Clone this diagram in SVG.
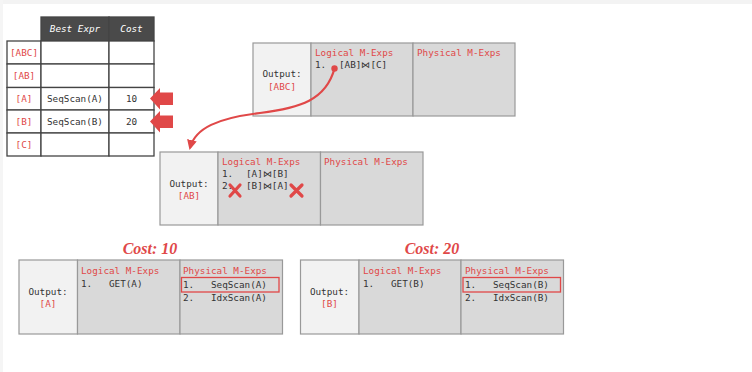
<svg xmlns="http://www.w3.org/2000/svg" width="752" height="372" viewBox="0 0 752 372">
<style>
text{white-space:pre}
.m{font-family:"DejaVu Sans Mono","Liberation Mono",monospace;font-size:9.3px;fill:#333}
.r{fill:#e04848}
.c{text-anchor:middle}
.box{fill:#d9d9d9;stroke:#999;stroke-width:1.2}
.out{fill:#f2f2f2;stroke:#999;stroke-width:1.2}
.tb{fill:#fff;stroke:#444;stroke-width:1.3}
.hd{fill:#4a4a4a;stroke:#444;stroke-width:1.3}
.ht{font-family:"DejaVu Sans Mono","Liberation Mono",monospace;font-size:9.3px;font-style:italic;fill:#fff;text-anchor:middle}
.cost{font-family:"Liberation Serif",serif;font-weight:bold;font-style:italic;font-size:16px;fill:#e04848;text-anchor:middle}
.x{stroke:#e04848;stroke-width:3.2;stroke-linecap:round}
</style>
<defs>
<marker id="ah" viewBox="0 0 10 10" refX="8" refY="5" markerWidth="4.5" markerHeight="4.5" orient="auto">
<path d="M0,0 L10,5 L0,10 z" fill="#e04848"/>
</marker>
</defs>
<rect width="752" height="372" fill="#fff"/>
<rect x="0" y="0" width="752" height="4" fill="#f3f3f3"/>
<rect x="0" y="0" width="3" height="372" fill="#f5f5f5"/>

<g id="table">
<rect class="hd" x="41" y="17" width="68" height="24"/>
<rect class="hd" x="109" y="17" width="45" height="24"/>
<text class="ht" x="75" y="32">Best Expr</text>
<text class="ht" x="131.5" y="32">Cost</text>
<rect class="tb" x="7" y="41" width="34" height="23"/>
<rect class="tb" x="41" y="41" width="68" height="23"/>
<rect class="tb" x="109" y="41" width="45" height="23"/>
<rect class="tb" x="7" y="64" width="34" height="23.5"/>
<rect class="tb" x="41" y="64" width="68" height="23.5"/>
<rect class="tb" x="109" y="64" width="45" height="23.5"/>
<rect class="tb" x="7" y="87.5" width="34" height="22.5"/>
<rect class="tb" x="41" y="87.5" width="68" height="22.5"/>
<rect class="tb" x="109" y="87.5" width="45" height="22.5"/>
<rect class="tb" x="7" y="110" width="34" height="23"/>
<rect class="tb" x="41" y="110" width="68" height="23"/>
<rect class="tb" x="109" y="110" width="45" height="23"/>
<rect class="tb" x="7" y="133" width="34" height="23"/>
<rect class="tb" x="41" y="133" width="68" height="23"/>
<rect class="tb" x="109" y="133" width="45" height="23"/>
<text class="m r c" x="24" y="55.5">[ABC]</text>
<text class="m r c" x="24" y="79">[AB]</text>
<text class="m r c" x="24" y="102">[A]</text>
<text class="m r c" x="24" y="125">[B]</text>
<text class="m r c" x="24" y="148">[C]</text>
<text class="m c" x="75" y="102">SeqScan(A)</text>
<text class="m c" x="75" y="125">SeqScan(B)</text>
<text class="m c" x="131.5" y="102">10</text>
<text class="m c" x="131.5" y="125">20</text>
</g>

<g id="arrowA"><path d="M150,98.5 L160,88 L160,92.5 L173,92.5 L173,105 L160,105 L160,109.5 Z" fill="#e04848"/></g>
<g id="arrowB"><path d="M150,121.5 L160,111 L160,115.5 L173,115.5 L173,128 L160,128 L160,132.5 Z" fill="#e04848"/></g>

<g id="nodeABC">
<rect class="out" x="253" y="43" width="58" height="73"/>
<rect class="box" x="311" y="43" width="102" height="73"/>
<rect class="box" x="413" y="43" width="102" height="73"/>
<text class="m c" x="282" y="77">Output:</text>
<text class="m r c" x="282" y="90">[ABC]</text>
<text class="m r" x="315" y="56">Logical M-Exps</text>
<text class="m r" x="417" y="56">Physical M-Exps</text>
<text class="m" x="315" y="68">1.</text>
<text class="m" x="339" y="68">[AB]⋈[C]</text>
</g>

<g id="nodeAB">
<rect class="out" x="160" y="152" width="58" height="73"/>
<rect class="box" x="218" y="152" width="102.5" height="73"/>
<rect class="box" x="320.5" y="152" width="102.5" height="73"/>
<text class="m c" x="189" y="187">Output:</text>
<text class="m r c" x="189" y="199">[AB]</text>
<text class="m r" x="222" y="165">Logical M-Exps</text>
<text class="m r" x="324" y="165">Physical M-Exps</text>
<text class="m" x="222" y="177">1.</text>
<text class="m" x="246" y="177">[A]⋈[B]</text>
<text class="m" x="222" y="189">2.</text>
<text class="m" x="246" y="189">[B]⋈[A]</text>
<path class="x" d="M230,185 L240,196 M240,185 L230,196"/>
<path class="x" d="M291,185 L302,196 M302,185 L291,196"/>
</g>

<g id="nodeA">
<text class="cost" x="150" y="254">Cost: 10</text>
<rect class="out" x="19" y="260" width="58.5" height="74"/>
<rect class="box" x="77.5" y="260" width="102.5" height="74"/>
<rect class="box" x="180" y="260" width="102.5" height="74"/>
<text class="m c" x="48" y="295">Output:</text>
<text class="m r c" x="48" y="307">[A]</text>
<text class="m r" x="81" y="274">Logical M-Exps</text>
<text class="m" x="81" y="287">1.   GET(A)</text>
<text class="m r" x="183" y="274">Physical M-Exps</text>
<text class="m" x="183" y="288">1.   SeqScan(A)</text>
<text class="m" x="183" y="301">2.   IdxScan(A)</text>
<rect x="181.5" y="277.5" width="97.5" height="14.5" fill="none" stroke="#e04848" stroke-width="1.3"/>
</g>

<g id="nodeB">
<text class="cost" x="432" y="254">Cost: 20</text>
<rect class="out" x="300.5" y="260" width="58.5" height="74"/>
<rect class="box" x="359" y="260" width="102" height="74"/>
<rect class="box" x="461" y="260" width="102.5" height="74"/>
<text class="m c" x="329.5" y="295">Output:</text>
<text class="m r c" x="329.5" y="307">[B]</text>
<text class="m r" x="363" y="274">Logical M-Exps</text>
<text class="m" x="363" y="287">1.   GET(B)</text>
<text class="m r" x="465" y="274">Physical M-Exps</text>
<text class="m" x="465" y="288">1.   SeqScan(B)</text>
<text class="m" x="465" y="301">2.   IdxScan(B)</text>
<rect x="463" y="277.5" width="97.5" height="14.5" fill="none" stroke="#e04848" stroke-width="1.3"/>
</g>

<g id="connectors">
<circle cx="334.5" cy="68.5" r="3.2" fill="#e04848"/>
<path d="M334.5,68.5 C326,100 300,108 260,113 C218,118 195,128 190,148" fill="none" stroke="#e04848" stroke-width="2.2" marker-end="url(#ah)"/>
</g>
</svg>
